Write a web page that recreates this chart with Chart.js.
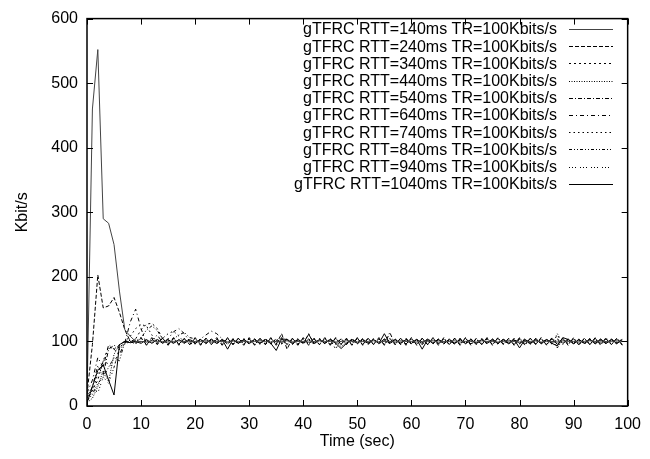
<!DOCTYPE html>
<html>
<head>
<meta charset="utf-8">
<script src="https://cdn.jsdelivr.net/npm/chart.js@4"></script>
<style>
  html, body { margin: 0; padding: 0; background: #fff; }
</style>
</head>
<body>
<canvas id="myChart" width="650" height="459"></canvas>
<script>
// time axis, one sample per second
const seconds = [
  0,1,2,3,4,5,6,7,8,9,10,11,12,13,14,15,16,17,18,19,
  20,21,22,23,24,25,26,27,28,29,30,31,32,33,34,35,36,37,38,39,
  40,41,42,43,44,45,46,47,48,49,50,51,52,53,54,55,56,57,58,59,
  60,61,62,63,64,65,66,67,68,69,70,71,72,73,74,75,76,77,78,79,
  80,81,82,83,84,85,86,87,88,89,90,91,92,93,94,95,96,97,98,99
];
const xTicks = [0, 10, 20, 30, 40, 50, 60, 70, 80, 90, 100];
const yTicks = [0, 100, 200, 300, 400, 500, 600];

const rtt140 = [
  10,460,552,290,283,250,178,118,108,100,
  100,99,101,100,100,99,100,101,100,99,
  100,100,101,99,100,100,99,101,100,100,
  99,100,101,100,99,100,100,101,99,100,
  100,99,100,101,100,100,99,100,101,100,
  99,100,100,101,99,100,100,99,101,100,
  100,99,100,100,101,99,100,100,101,99,
  100,100,99,101,100,100,99,100,101,100,
  99,100,100,101,99,100,100,99,101,100,
  100,99,100,101,100,99,100,100,101,100
];
const rtt240 = [
  18,95,203,152,155,168,145,118,100,96,
  105,95,104,96,105,95,105,96,104,95,
  105,95,105,96,104,95,105,95,105,96,
  104,95,105,95,105,96,112,88,105,95,
  105,96,104,95,105,95,105,96,104,95,
  105,95,105,96,104,95,105,95,105,96,
  104,95,105,95,105,96,104,95,105,95,
  105,96,104,95,105,95,105,96,104,95,
  105,95,105,96,104,95,105,95,105,96,
  104,95,105,95,105,96,104,95,105,95
];
const rtt340 = [
  8,25,40,70,92,88,95,100,99,104,
  118,127,128,120,104,96,104,96,104,97,
  96,104,97,104,96,103,96,104,97,104,
  96,104,96,103,97,104,96,104,96,103,
  97,112,96,104,97,104,96,104,96,103,
  97,104,96,104,96,103,97,104,96,104,
  96,103,97,104,96,104,96,103,97,104,
  96,104,96,103,97,104,96,104,96,103,
  97,104,96,104,96,103,97,110,96,104,
  96,103,97,104,96,104,96,103,97,104
];
const rtt440 = [
  5,12,30,55,38,80,95,100,98,102,
  99,101,98,102,99,101,98,102,99,101,
  98,102,99,101,98,102,99,101,98,102,
  99,101,98,102,99,101,98,102,99,101,
  98,102,99,101,98,102,99,92,98,102,
  99,101,98,102,99,101,98,102,99,101,
  98,102,99,101,98,102,99,101,98,102,
  99,101,98,102,99,101,98,102,99,101,
  98,102,99,101,98,102,99,101,98,102,
  99,101,98,102,99,101,98,102,99,101
];
const rtt540 = [
  12,30,62,48,88,94,90,98,102,100,
  106,94,106,95,105,94,106,94,105,95,
  106,94,105,95,106,94,106,95,105,94,
  106,94,105,95,106,94,106,95,105,94,
  106,94,105,95,106,94,106,95,105,94,
  106,94,105,95,106,94,114,95,105,94,
  106,94,105,95,106,94,106,95,105,94,
  106,94,105,95,106,94,106,95,105,94,
  106,94,105,95,106,94,106,95,105,94,
  106,94,105,95,106,94,106,95,105,94
];
const rtt640 = [
  20,40,75,60,95,88,80,98,130,150,
  120,96,102,110,98,104,115,120,112,100,
  96,104,110,116,112,104,96,104,96,105,
  96,104,95,105,96,104,96,104,95,105,
  96,104,95,105,96,104,96,104,95,105,
  96,104,95,105,96,104,96,104,95,105,
  96,104,95,105,96,104,96,104,95,105,
  96,104,95,105,96,104,96,104,95,105,
  96,104,95,105,96,104,96,104,95,105,
  96,104,95,105,96,104,96,104,95,105
];
const rtt740 = [
  12,22,50,70,65,60,90,100,108,120,
  126,124,110,98,105,112,116,108,99,104,
  97,103,96,104,97,103,96,104,97,103,
  96,104,97,103,96,104,97,103,96,104,
  97,103,96,104,97,103,88,104,97,103,
  96,104,97,103,96,104,97,103,96,104,
  97,103,96,104,97,103,96,104,97,103,
  96,104,97,103,96,104,97,103,96,104,
  97,103,96,104,97,103,96,104,97,103,
  96,104,97,103,96,104,97,103,96,104
];
const rtt840 = [
  8,18,35,45,60,75,70,100,102,98,
  105,118,124,117,103,96,104,110,114,106,
  104,96,104,96,103,97,104,96,104,96,
  104,96,103,97,104,96,104,96,104,96,
  103,97,104,96,104,96,104,96,103,97,
  104,96,104,96,104,96,103,97,104,96,
  104,96,104,96,103,97,104,96,104,96,
  104,96,103,97,104,96,104,96,104,96,
  103,97,104,96,104,96,104,90,103,97,
  104,96,104,96,103,97,104,96,104,96
];
const rtt940 = [
  15,30,20,45,35,60,88,96,100,104,
  98,102,97,103,98,102,97,103,98,102,
  97,103,98,102,97,103,98,102,97,103,
  98,102,97,103,98,102,97,103,98,102,
  97,103,98,102,97,103,98,102,97,103,
  98,102,97,103,98,102,97,103,98,102,
  97,103,98,102,97,103,98,102,97,103,
  98,102,97,103,98,102,97,103,98,102,
  97,103,98,102,97,103,98,112,97,103,
  98,102,97,103,98,102,97,103,98,102
];
const rtt1040 = [
  5,30,55,64,40,17,95,100,98,100,
  97,103,97,103,97,103,97,103,97,103,
  97,103,97,103,97,103,88,103,97,103,
  97,103,97,103,97,86,104,103,97,103,
  97,111,97,103,97,103,97,89,97,103,
  97,103,97,103,97,112,97,103,97,103,
  97,103,88,103,97,103,97,103,97,103,
  97,103,97,103,97,103,97,103,97,103,
  90,103,97,103,97,103,97,93,106,103,
  97,103,97,103,97,103,97,103,97,103
];

const labels = [
  "gTFRC RTT=140ms TR=100Kbits/s",
  "gTFRC RTT=240ms TR=100Kbits/s",
  "gTFRC RTT=340ms TR=100Kbits/s",
  "gTFRC RTT=440ms TR=100Kbits/s",
  "gTFRC RTT=540ms TR=100Kbits/s",
  "gTFRC RTT=640ms TR=100Kbits/s",
  "gTFRC RTT=740ms TR=100Kbits/s",
  "gTFRC RTT=840ms TR=100Kbits/s",
  "gTFRC RTT=940ms TR=100Kbits/s",
  "gTFRC RTT=1040ms TR=100Kbits/s"
];
const series = [rtt140, rtt240, rtt340, rtt440, rtt540, rtt640, rtt740, rtt840, rtt940, rtt1040];
const dashes = [[], [4, 2], [2, 3], [1, 1.5], [4, 2, 1, 2], [4, 3, 1, 3], [1.5, 3], [3, 2, 1, 2, 1, 2], [1, 2, 1, 2, 1, 4], []];
const colors = ["#444", "#000", "#000", "#000", "#000", "#000", "#000", "#000", "#000", "#000"];

const FONT = "'Liberation Sans', Arial, Helvetica, sans-serif";

const framePlugin = {
  id: "frame",
  afterDatasetsDraw(chart) {
    const { ctx, chartArea: a, scales } = chart;
    ctx.save();
    ctx.strokeStyle = "#000";
    ctx.lineWidth = 1.5;
    ctx.setLineDash([]);
    ctx.strokeRect(a.left, a.top, a.right - a.left, a.bottom - a.top);
    ctx.lineWidth = 1;
    ctx.beginPath();
    scales.x.ticks.forEach((t) => {
      const px = Math.round(scales.x.getPixelForValue(t.value)) + 0.5;
      ctx.moveTo(px, a.bottom); ctx.lineTo(px, a.bottom - 6);
      ctx.moveTo(px, a.top); ctx.lineTo(px, a.top + 6);
    });
    scales.y.ticks.forEach((t) => {
      const py = Math.round(scales.y.getPixelForValue(t.value)) + 0.5;
      ctx.moveTo(a.left, py); ctx.lineTo(a.left + 6, py);
      ctx.moveTo(a.right, py); ctx.lineTo(a.right - 6, py);
    });
    ctx.stroke();

    // key in the top right corner, text first then the line sample
    ctx.font = "16px " + FONT;
    ctx.textAlign = "right";
    ctx.textBaseline = "middle";
    chart.data.datasets.forEach((ds, i) => {
      const y = 29 + i * 17.2;
      ctx.fillStyle = "#000";
      ctx.fillText(ds.label, 557, y + 1);
      ctx.strokeStyle = ds.borderColor;
      ctx.setLineDash(ds.borderDash);
      ctx.beginPath();
      ctx.moveTo(569, Math.round(y) + 0.5);
      ctx.lineTo(613, Math.round(y) + 0.5);
      ctx.stroke();
    });
    ctx.restore();
  }
};

new Chart(document.getElementById("myChart"), {
  type: "line",
  data: {
    datasets: series.map((vals, i) => ({
      label: labels[i],
      data: seconds.map((t, j) => ({ x: t, y: vals[j] })),
      borderColor: colors[i],
      borderDash: dashes[i],
      borderWidth: 1,
      pointRadius: 0,
      tension: 0,
      fill: false,
    })),
  },
  options: {
    responsive: false,
    animation: false,
    devicePixelRatio: 1,
    layout: { padding: { left: 0, right: 19, top: 14, bottom: 0 } },
    plugins: { legend: { display: false }, tooltip: { enabled: false } },
    scales: {
      x: {
        type: "linear",
        min: 0,
        max: 100,
        afterBuildTicks: (s) => { s.ticks = xTicks.map((v) => ({ value: v })); },
        afterFit: (s) => { s.height = 53; },
        grid: { display: false, drawTicks: false },
        border: { display: false },
        ticks: { color: "#000", padding: 9, maxRotation: 0, font: { family: FONT, size: 16 } },
        title: { display: true, text: "Time (sec)", color: "#000", padding: { top: 0, bottom: 8 }, font: { family: FONT, size: 16 } },
      },
      y: {
        min: 0,
        max: 600,
        afterBuildTicks: (s) => { s.ticks = yTicks.map((v) => ({ value: v })); },
        afterFit: (s) => { s.width = 87; },
        grid: { display: false, drawTicks: false },
        border: { display: false },
        ticks: { color: "#000", padding: 9, font: { family: FONT, size: 16 } },
        title: { display: true, text: "Kbit/s", color: "#000", padding: { top: 13, bottom: 0 }, font: { family: FONT, size: 16 } },
      },
    },
  },
  plugins: [framePlugin],
});
</script>
</body>
</html>
